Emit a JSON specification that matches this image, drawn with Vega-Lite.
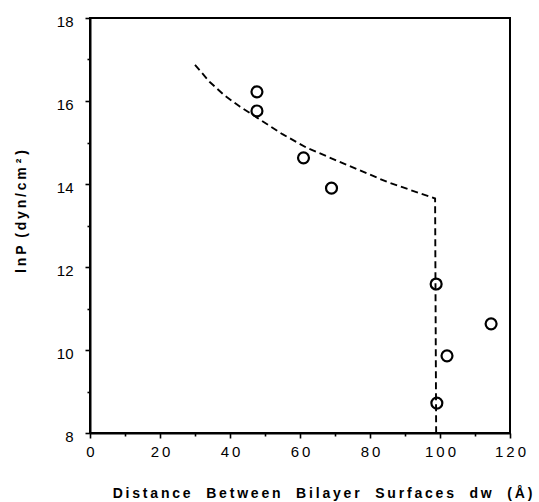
{
  "$schema": "https://vega.github.io/schema/vega-lite/v6.json",
  "width": 420,
  "height": 415,
  "autosize": {"type": "none"},
  "padding": {"left": 90, "top": 18, "right": 29, "bottom": 69},
  "background": "white",
  "config": {
    "view": {"stroke": "#000", "strokeWidth": 2},
    "axis": {
      "domainColor": "#000",
      "domainWidth": 2,
      "tickColor": "#000",
      "tickWidth": 1.6,
      "labelColor": "#000",
      "labelFont": "Liberation Sans",
      "labelFontSize": 15,
      "titleFont": "Liberation Sans",
      "titleFontSize": 14,
      "titleFontWeight": "bold",
      "titleColor": "#000",
      "grid": false,
      "labelFlush": false,
      "labelOverlap": false
    }
  },
  "datasets": {
    "points": [
      {"dw": 47.7, "lnP": 16.22},
      {"dw": 47.7, "lnP": 15.76},
      {"dw": 61.0, "lnP": 14.63},
      {"dw": 69.0, "lnP": 13.9},
      {"dw": 98.9, "lnP": 11.59},
      {"dw": 114.6, "lnP": 10.63},
      {"dw": 102.0, "lnP": 9.86},
      {"dw": 99.1, "lnP": 8.72}
    ],
    "curve": [
      {"seq": 1, "dw": 30.0, "lnP": 16.87},
      {"seq": 2, "dw": 34.3, "lnP": 16.45},
      {"seq": 3, "dw": 38.5, "lnP": 16.13},
      {"seq": 4, "dw": 42.9, "lnP": 15.86},
      {"seq": 5, "dw": 47.7, "lnP": 15.6},
      {"seq": 6, "dw": 55.0, "lnP": 15.2},
      {"seq": 7, "dw": 62.0, "lnP": 14.87},
      {"seq": 8, "dw": 73.4, "lnP": 14.46},
      {"seq": 9, "dw": 84.9, "lnP": 14.05},
      {"seq": 10, "dw": 98.6, "lnP": 13.65},
      {"seq": 11, "dw": 98.9, "lnP": 8.0}
    ]
  },
  "layer": [
    {
      "data": {"name": "curve"},
      "mark": {"type": "line", "color": "#000", "strokeDash": [7, 4], "strokeWidth": 1.9},
      "encoding": {
        "x": {
          "field": "dw", "type": "quantitative",
          "scale": {"domain": [0, 120], "nice": false, "zero": false},
          "axis": {
            "orient": "bottom",
            "values": [0, 20, 40, 60, 80, 100, 120],
            "tickSize": 5,
            "labelPadding": 6,
            "labelExpr": "join(split(datum.label, ''), '\u2009')",
            "title": "D\u2009i\u2009s\u2009t\u2009a\u2009n\u2009c\u2009e\u00a0\u00a0\u00a0\u00a0B\u2009e\u2009t\u2009w\u2009e\u2009e\u2009n\u00a0\u00a0\u00a0\u00a0B\u2009i\u2009l\u2009a\u2009y\u2009e\u2009r\u00a0\u00a0\u00a0\u00a0S\u2009u\u2009r\u2009f\u2009a\u2009c\u2009e\u2009s\u00a0\u00a0\u00a0\u00a0d\u2009w\u00a0\u00a0\u00a0\u00a0(\u2009\u00c5\u2009)",
            "titleX": 232,
            "titleY": 64,
            "titleAlign": "center",
            "titleBaseline": "alphabetic"
          }
        },
        "y": {
          "field": "lnP", "type": "quantitative",
          "scale": {"domain": [8, 18], "nice": false, "zero": false},
          "axis": {
            "orient": "left",
            "values": [8, 10, 12, 14, 16, 18],
            "tickSize": 5,
            "labelPadding": 12,
            "labelOffset": 3,
            "title": "l\u2009n\u2009P\u00a0\u00a0(\u2009d\u2009y\u2009n\u2009/\u2009c\u2009m\u00a0\u00b2\u00a0)",
            "titleX": -65,
            "titleY": 193,
            "titleAngle": -90,
            "titleAlign": "center",
            "titleBaseline": "alphabetic"
          }
        },
        "order": {"field": "seq", "type": "quantitative"}
      }
    },
    {
      "data": {"name": "points"},
      "mark": {"type": "point", "shape": "circle", "color": "#000", "filled": false, "opacity": 1, "size": 120, "strokeWidth": 2.2},
      "encoding": {
        "x": {
          "field": "dw", "type": "quantitative",
          "axis": {
            "orient": "bottom",
            "values": [10, 30, 50, 70, 90, 110],
            "tickSize": 3,
            "labels": false,
            "domain": false,
            "title": null
          }
        },
        "y": {
          "field": "lnP", "type": "quantitative",
          "axis": {
            "orient": "left",
            "values": [9, 11, 13, 15, 17],
            "tickSize": 3,
            "labels": false,
            "domain": false,
            "title": null
          }
        }
      }
    }
  ],
  "resolve": {"axis": {"x": "independent", "y": "independent"}}
}
